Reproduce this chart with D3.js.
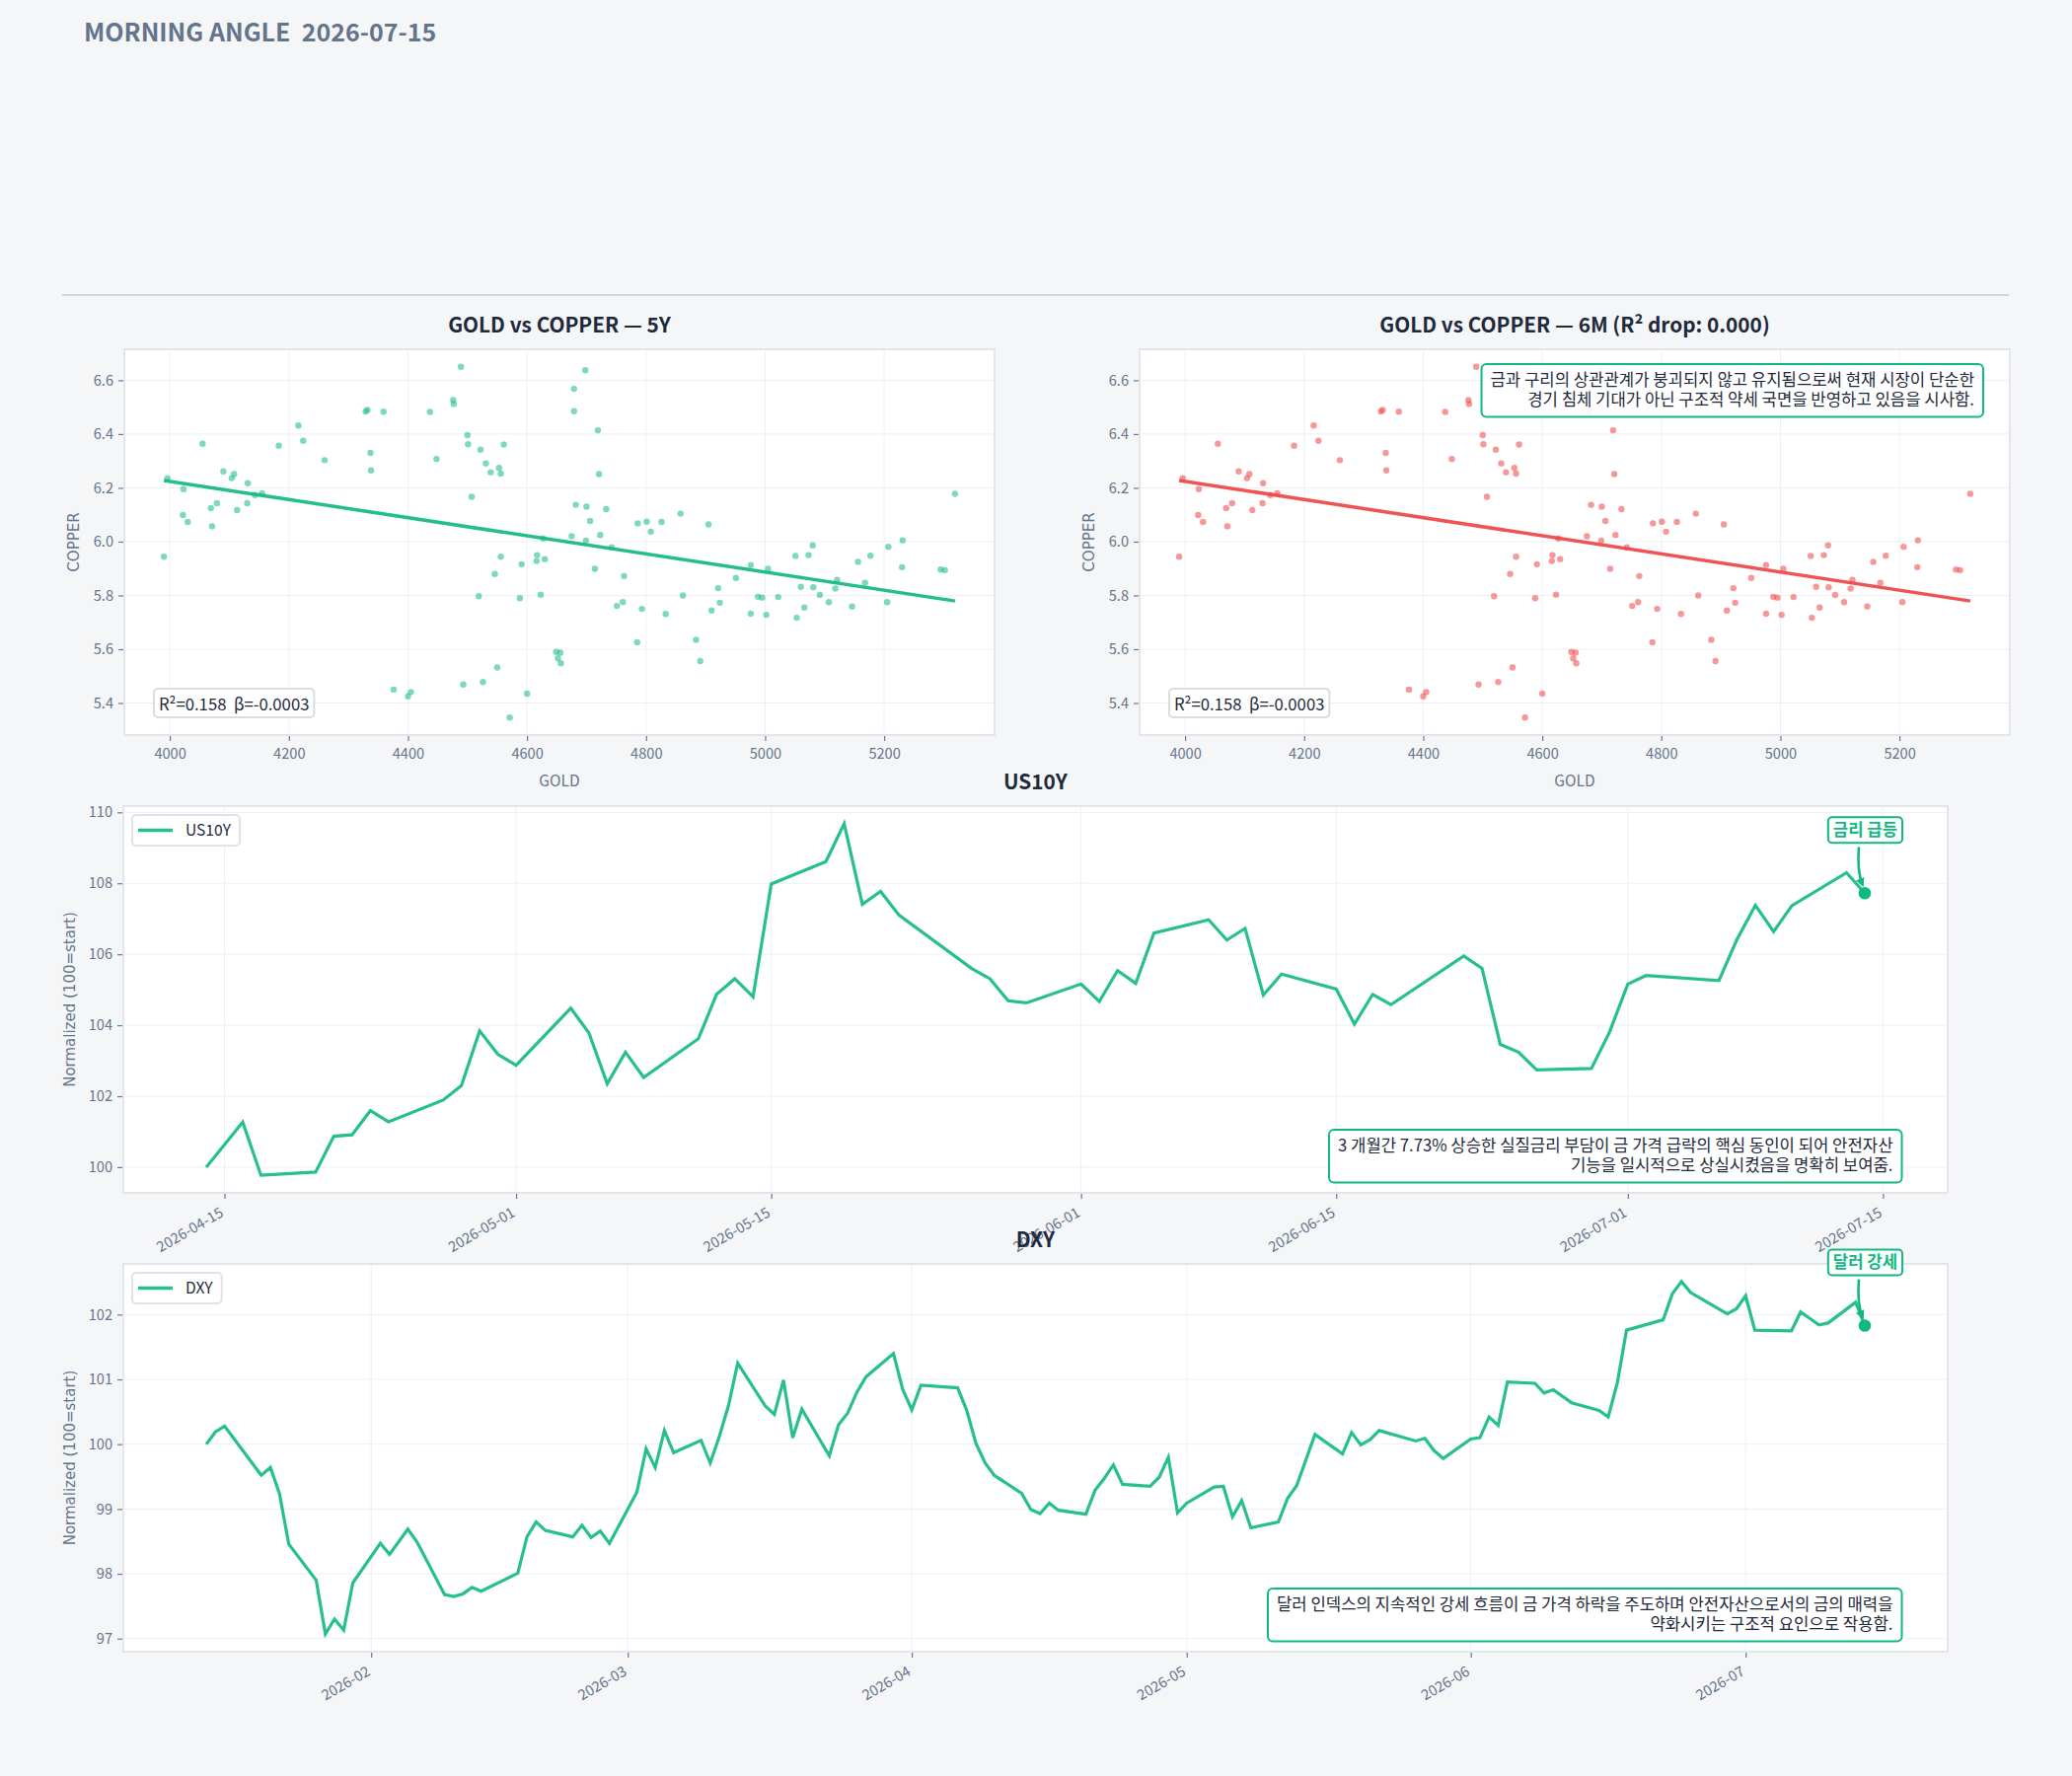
<!DOCTYPE html>
<html>
<head>
<meta charset="utf-8">
<script src="https://cdn.jsdelivr.net/npm/d3@7"></script>
<style>
  body { margin: 0; background: #f5f6f8; }
  svg { display: block; }
</style>
</head>
<body>
<div id="chart"></div>
<script>
// ---- data ----
const gold = [3990, 3996, 4023, 4022, 4030, 4055, 4071, 4069, 4079, 4090,
  4104, 4108, 4113, 4130, 4131, 4143, 4155, 4183, 4216, 4224,
  4260, 4329, 4332, 4337, 4338, 4359, 4376, 4400, 4405, 4437,
  4448, 4476, 4477, 4489, 4493, 4500, 4501, 4507, 4519, 4522,
  4526, 4531, 4539, 4546, 4550, 4553, 4556, 4556, 4561, 4571,
  4588, 4591, 4600, 4616, 4617, 4623, 4627, 4630, 4649, 4652,
  4656, 4657, 4675, 4679, 4679, 4682, 4698, 4699, 4700, 4706,
  4714, 4719, 4721, 4723, 4733, 4742, 4751, 4761, 4763, 4785,
  4786, 4793, 4801, 4808, 4826, 4833, 4858, 4862, 4884, 4891,
  4905, 4910, 4921, 4924, 4951, 4976, 4976, 4988, 4995, 5002,
  5005, 5022, 5051, 5053, 5060, 5066, 5073, 5080, 5081, 5092,
  5107, 5118, 5121, 5146, 5156, 5168, 5177, 5205, 5207, 5230,
  5231, 5295, 5302, 5319];
const copper = [5.944, 6.236, 6.195, 6.099, 6.073, 6.364, 6.057, 6.125, 6.143, 6.261,
  6.236, 6.251, 6.117, 6.143, 6.217, 6.173, 6.180, 6.357, 6.432, 6.375,
  6.303, 6.484, 6.490, 6.330, 6.265, 6.483, 5.450, 5.425, 5.441, 6.482,
  6.307, 6.526, 6.512, 6.650, 5.469, 6.396, 6.362, 6.167, 5.797, 6.342,
  5.478, 6.291, 6.258, 5.880, 5.532, 6.274, 6.253, 5.944, 6.361, 5.346,
  5.790, 5.916, 5.435, 5.928, 5.950, 5.803, 6.012, 5.935, 5.590, 5.566,
  5.587, 5.548, 6.020, 6.568, 6.485, 6.137, 6.637, 6.004, 6.130, 6.077,
  5.899, 6.414, 6.251, 6.025, 6.121, 5.979, 5.761, 5.775, 5.872, 5.626,
  6.068, 5.750, 6.074, 6.037, 6.073, 5.731, 6.104, 5.800, 5.635, 5.556,
  6.064, 5.744, 5.827, 5.773, 5.865, 5.913, 5.732, 5.795, 5.792, 5.728,
  5.899, 5.794, 5.947, 5.717, 5.832, 5.755, 5.950, 5.986, 5.830, 5.802,
  5.775, 5.826, 5.858, 5.759, 5.925, 5.847, 5.948, 5.775, 5.981, 5.905,
  6.005, 5.896, 5.894, 6.178];

const us10yDates = ['2026-04-14', '2026-04-16', '2026-04-17', '2026-04-20', '2026-04-21', '2026-04-22',
  '2026-04-23', '2026-04-24', '2026-04-27', '2026-04-28', '2026-04-29', '2026-04-30', '2026-05-01',
  '2026-05-04', '2026-05-05', '2026-05-06', '2026-05-07', '2026-05-08', '2026-05-11', '2026-05-12',
  '2026-05-13', '2026-05-14', '2026-05-15', '2026-05-18', '2026-05-19', '2026-05-20', '2026-05-21',
  '2026-05-22', '2026-05-26', '2026-05-27', '2026-05-28', '2026-05-29', '2026-06-01', '2026-06-02',
  '2026-06-03', '2026-06-04', '2026-06-05', '2026-06-08', '2026-06-09', '2026-06-10', '2026-06-11',
  '2026-06-12', '2026-06-15', '2026-06-16', '2026-06-17', '2026-06-18', '2026-06-22', '2026-06-23',
  '2026-06-24', '2026-06-25', '2026-06-26', '2026-06-29', '2026-06-30', '2026-07-01', '2026-07-02',
  '2026-07-06', '2026-07-07', '2026-07-08', '2026-07-09', '2026-07-10', '2026-07-13', '2026-07-14'];
const us10yValues = [100.00, 101.27, 99.77, 99.86, 100.87, 100.91,
  101.59, 101.28, 101.89, 102.30, 103.84, 103.18, 102.87,
  104.48, 103.78, 102.35, 103.24, 102.53, 103.62, 104.87,
  105.31, 104.80, 107.98, 108.61, 109.68, 107.41, 107.77,
  107.11, 105.60, 105.31, 104.69, 104.63, 105.16, 104.67,
  105.54, 105.18, 106.60, 106.97, 106.40, 106.73, 104.85,
  105.44, 105.02, 104.03, 104.87, 104.58, 105.95, 105.60,
  103.46, 103.24, 102.74, 102.78, 103.81, 105.16, 105.40,
  105.26, 106.43, 107.38, 106.64, 107.37, 108.30, 107.72];

const dxyDates = ['2026-01-14', '2026-01-15', '2026-01-16', '2026-01-20', '2026-01-21', '2026-01-22',
  '2026-01-23', '2026-01-26', '2026-01-27', '2026-01-28', '2026-01-29', '2026-01-30', '2026-02-02',
  '2026-02-03', '2026-02-05', '2026-02-06', '2026-02-09', '2026-02-10', '2026-02-11', '2026-02-12',
  '2026-02-13', '2026-02-17', '2026-02-18', '2026-02-19', '2026-02-20', '2026-02-23', '2026-02-24',
  '2026-02-25', '2026-02-26', '2026-02-27', '2026-03-02', '2026-03-03', '2026-03-04', '2026-03-05',
  '2026-03-06', '2026-03-09', '2026-03-10', '2026-03-11', '2026-03-12', '2026-03-13', '2026-03-16',
  '2026-03-17', '2026-03-18', '2026-03-19', '2026-03-20', '2026-03-23', '2026-03-24', '2026-03-25',
  '2026-03-26', '2026-03-27', '2026-03-30', '2026-03-31', '2026-04-01', '2026-04-02', '2026-04-06',
  '2026-04-07', '2026-04-08', '2026-04-09', '2026-04-10', '2026-04-13', '2026-04-14', '2026-04-15',
  '2026-04-16', '2026-04-17', '2026-04-20', '2026-04-21', '2026-04-22', '2026-04-23', '2026-04-24',
  '2026-04-27', '2026-04-28', '2026-04-29', '2026-04-30', '2026-05-01', '2026-05-04', '2026-05-05',
  '2026-05-06', '2026-05-07', '2026-05-08', '2026-05-11', '2026-05-12', '2026-05-13', '2026-05-15',
  '2026-05-18', '2026-05-19', '2026-05-20', '2026-05-21', '2026-05-22', '2026-05-26', '2026-05-27',
  '2026-05-28', '2026-05-29', '2026-06-01', '2026-06-02', '2026-06-03', '2026-06-04', '2026-06-05',
  '2026-06-08', '2026-06-09', '2026-06-10', '2026-06-12', '2026-06-15', '2026-06-16', '2026-06-17',
  '2026-06-18', '2026-06-22', '2026-06-23', '2026-06-24', '2026-06-25', '2026-06-29', '2026-06-30',
  '2026-07-01', '2026-07-02', '2026-07-06', '2026-07-07', '2026-07-08', '2026-07-09', '2026-07-10',
  '2026-07-13', '2026-07-14'];
const dxyValues = [100.00, 100.19, 100.28, 99.52, 99.64, 99.23,
  98.46, 97.90, 97.07, 97.30, 97.13, 97.86, 98.47,
  98.30, 98.69, 98.49, 97.68, 97.65, 97.69, 97.79,
  97.73, 98.01, 98.57, 98.80, 98.67, 98.57, 98.75,
  98.56, 98.66, 98.47, 99.26, 99.93, 99.64, 100.21,
  99.87, 100.06, 99.71, 100.12, 100.60, 101.25, 100.59,
  100.46, 100.99, 100.10, 100.54, 99.82, 100.30, 100.48,
  100.80, 101.04, 101.40, 100.85, 100.53, 100.91, 100.87,
  100.52, 100.01, 99.71, 99.52, 99.24, 98.99, 98.93,
  99.09, 98.98, 98.92, 99.29, 99.47, 99.68, 99.38,
  99.35, 99.49, 99.80, 98.94, 99.09, 99.34, 99.35,
  98.88, 99.13, 98.71, 98.80, 99.16, 99.36, 100.15,
  99.85, 100.18, 99.99, 100.07, 100.21, 100.05, 100.09,
  99.90, 99.78, 100.08, 100.10, 100.42, 100.29, 100.96,
  100.94, 100.79, 100.84, 100.64, 100.52, 100.42, 100.95,
  101.76, 101.92, 102.32, 102.51, 102.34, 102.01, 102.09,
  102.29, 101.76, 101.75, 102.04, 101.94, 101.84, 101.87,
  102.19, 101.83];

const scatterXTicks = [4000, 4200, 4400, 4600, 4800, 5000, 5200];
const scatterYTicks = [5.4, 5.6, 5.8, 6.0, 6.2, 6.4, 6.6];
const us10yYTicks = [100, 102, 104, 106, 108, 110];
const us10yXTicks = ['2026-04-15', '2026-05-01', '2026-05-15', '2026-06-01', '2026-06-15', '2026-07-01', '2026-07-15'];
const dxyYTicks = [97, 98, 99, 100, 101, 102];
const dxyXTicks = ['2026-02-01', '2026-03-01', '2026-04-01', '2026-05-01', '2026-06-01', '2026-07-01'];

const scatterNote = ['금과 구리의 상관관계가 붕괴되지 않고 유지됨으로써 현재 시장이 단순한',
  '경기 침체 기대가 아닌 구조적 약세 국면을 반영하고 있음을 시사함.'];
const us10yNote = ['3 개월간 7.73% 상승한 실질금리 부담이 금 가격 급락의 핵심 동인이 되어 안전자산',
  '기능을 일시적으로 상실시켰음을 명확히 보여줌.'];
const dxyNote = ['달러 인덱스의 지속적인 강세 흐름이 금 가격 하락을 주도하며 안전자산으로서의 금의 매력을',
  '약화시키는 구조적 요인으로 작용함.'];

// ---- look ----
const FONT = '"Noto Sans CJK KR", "Noto Sans", sans-serif';
const LABEL_FONT = '"DejaVu Sans", sans-serif';
const GREEN = '#10b981';
const RED = '#ef4444';
const MUTED = '#64748b';
const DARK = '#1e293b';
const TICK_SIZE = 14.6;
const NOTE_SIZE = 16.7;

const parse = d3.timeParse('%Y-%m-%d');

let svg = d3.select('#chart')
    .append('svg')
    .attr('width', 2100)
    .attr('height', 1800)
    .style('font-family', FONT);

svg.append('rect').attr('width', 2100).attr('height', 1800).attr('fill', '#f5f6f8');

// arrow head for the badges
svg.append('defs').append('marker')
    .attr('id', 'arrow')
    .attr('viewBox', '0 0 10 10')
    .attr('refX', 8).attr('refY', 5)
    .attr('markerWidth', 9).attr('markerHeight', 9)
    .attr('markerUnits', 'userSpaceOnUse')
    .attr('orient', 'auto')
    .append('path')
    .attr('d', 'M0,0 L10,5 L0,10 z')
    .attr('fill', GREEN);

// header
svg.append('text')
    .attr('x', 85).attr('y', 42)
    .attr('font-size', 25).attr('font-weight', 700)
    .attr('fill', MUTED)
    .attr('xml:space', 'preserve')
    .text('MORNING ANGLE  2026-07-15');

svg.append('line')
    .attr('x1', 63).attr('x2', 2036)
    .attr('y1', 299).attr('y2', 299)
    .attr('stroke', '#cfd6e0').attr('stroke-width', 2);

// 5% padding like matplotlib autoscale
function padded(ext) {
    let r = ext[1] - ext[0];
    return [ext[0] - r * 0.05, ext[1] + r * 0.05];
}

// white plot area with grid lines
function plotArea(box, x, y, xTicks, yTicks) {
    let g = svg.append('g');
    g.append('rect')
        .attr('x', box.x0).attr('y', box.y0)
        .attr('width', box.x1 - box.x0).attr('height', box.y1 - box.y0)
        .attr('fill', '#ffffff');
    g.selectAll('.vg').data(xTicks).join('line')
        .attr('x1', d => x(d)).attr('x2', d => x(d))
        .attr('y1', box.y0).attr('y2', box.y1)
        .attr('stroke', '#edeff3').attr('stroke-width', 1);
    g.selectAll('.hg').data(yTicks).join('line')
        .attr('x1', box.x0).attr('x2', box.x1)
        .attr('y1', d => y(d)).attr('y2', d => y(d))
        .attr('stroke', '#edeff3').attr('stroke-width', 1);
    return g;
}

function border(box) {
    svg.append('rect')
        .attr('x', box.x0).attr('y', box.y0)
        .attr('width', box.x1 - box.x0).attr('height', box.y1 - box.y0)
        .attr('fill', 'none')
        .attr('stroke', '#e2e5eb').attr('stroke-width', 2);
}

function styleAxis(axis) {
    axis.select('.domain').remove();
    axis.attr('font-family', FONT).attr('font-size', TICK_SIZE);
    axis.selectAll('line').attr('stroke', '#6b7a90').attr('stroke-width', 1.2);
    axis.selectAll('text').attr('fill', MUTED);
}

function yAxis(box, y, ticks, fmt) {
    let a = svg.append('g').attr('transform', `translate(${box.x0 - 1}, 0)`)
        .call(d3.axisLeft(y).tickValues(ticks).tickSize(5).tickPadding(5).tickFormat(fmt));
    styleAxis(a);
}

function yLabel(box, x, label) {
    svg.append('text')
        .attr('transform', `translate(${x}, ${(box.y0 + box.y1) / 2}) rotate(-90)`)
        .attr('text-anchor', 'middle')
        .attr('font-family', LABEL_FONT).attr('font-size', 15)
        .attr('fill', MUTED)
        .text(label);
}

// text box, right aligned, lines kept in one text element
function noteBox(lines, xRight, top, borderColor) {
    let g = svg.append('g');
    let rect = g.append('rect');
    let text = g.append('text')
        .attr('text-anchor', 'end')
        .attr('font-size', NOTE_SIZE)
        .attr('fill', DARK);
    let spans = text.selectAll('tspan').data(lines).join('tspan')
        .attr('x', xRight)
        .attr('y', (d, i) => top + 22 + i * 19.5)
        .text(d => d);
    let w = d3.max(spans.nodes(), n => n.getComputedTextLength());
    rect.attr('x', xRight - w - 9).attr('y', top)
        .attr('width', w + 18).attr('height', 22 + 19.5 * (lines.length - 1) + 12)
        .attr('rx', 5)
        .attr('fill', 'rgba(255,255,255,0.92)')
        .attr('stroke', borderColor).attr('stroke-width', 2);
}

// ---- scatter panels ----
const SY0 = 354, SY1 = 745, SW = 882;

function scatterPanel(px0, title, color, withNote) {
    let box = { x0: px0, x1: px0 + SW, y0: SY0, y1: SY1 };
    let x = d3.scaleLinear().domain(padded(d3.extent(gold))).range([box.x0, box.x1]);
    let y = d3.scaleLinear().domain(padded(d3.extent(copper))).range([box.y1, box.y0]);

    let g = plotArea(box, x, y, scatterXTicks, scatterYTicks);

    g.selectAll('circle').data(gold).join('circle')
        .attr('cx', d => x(d))
        .attr('cy', (d, i) => y(copper[i]))
        .attr('r', 3.2)
        .attr('fill', color)
        .attr('fill-opacity', 0.55);

    // least squares fit
    let mx = d3.mean(gold), my = d3.mean(copper);
    let beta = d3.sum(gold, (d, i) => (d - mx) * (copper[i] - my)) / d3.sum(gold, d => (d - mx) ** 2);
    let alpha = my - beta * mx;
    let ext = d3.extent(gold);
    g.append('path')
        .attr('d', d3.line()(ext.map(v => [x(v), y(alpha + beta * v)])))
        .attr('stroke', color).attr('stroke-opacity', 0.92)
        .attr('stroke-width', 3.5).attr('fill', 'none');

    border(box);

    let ax = svg.append('g').attr('transform', `translate(0, ${box.y1 + 1})`)
        .call(d3.axisBottom(x).tickValues(scatterXTicks).tickSize(5).tickPadding(8).tickFormat(d3.format('d')));
    styleAxis(ax);
    yAxis(box, y, scatterYTicks, d3.format('.1f'));

    svg.append('text')
        .attr('x', (box.x0 + box.x1) / 2).attr('y', 797)
        .attr('text-anchor', 'middle')
        .attr('font-size', 15.5).attr('fill', MUTED)
        .text('GOLD');
    yLabel(box, box.x0 - 46, 'COPPER');

    svg.append('text')
        .attr('x', (box.x0 + box.x1) / 2).attr('y', 337)
        .attr('text-anchor', 'middle')
        .attr('font-size', 20.8).attr('font-weight', 700)
        .attr('fill', DARK)
        .text(title);

    // R² box
    let rg = svg.append('g');
    let rr = rg.append('rect');
    let rt = rg.append('text')
        .attr('x', box.x0 + 35).attr('y', box.y1 - 25)
        .attr('font-size', NOTE_SIZE).attr('fill', DARK)
        .attr('xml:space', 'preserve')
        .text('R²=0.158  β=-0.0003');
    let tw = rt.node().getComputedTextLength();
    rr.attr('x', box.x0 + 30).attr('y', box.y1 - 47)
        .attr('width', tw + 10).attr('height', 29)
        .attr('rx', 4)
        .attr('fill', '#ffffff')
        .attr('stroke', '#d8dce3').attr('stroke-width', 2);

    if (withNote) noteBox(scatterNote, box.x1 - 36, box.y0 + 15, GREEN);
}

scatterPanel(126, 'GOLD vs COPPER — 5Y', GREEN, false);
scatterPanel(1155, 'GOLD vs COPPER — 6M (R² drop: 0.000)', RED, true);

// ---- time series panels ----
function linePanel(y0, y1, name, dates, values, yTicks, xTicks, fmt, badge, note) {
    let box = { x0: 125, x1: 1974, y0: y0, y1: y1 };
    let data = dates.map((d, i) => ({ date: parse(d), value: values[i] }));
    let ticks = xTicks.map(parse);

    let x = d3.scaleTime().domain(padded(d3.extent(data, d => d.date.getTime()))).range([box.x0, box.x1]);
    let y = d3.scaleLinear().domain(padded(d3.extent(values))).range([box.y1, box.y0]);

    let g = plotArea(box, x, y, ticks, yTicks);

    let line = d3.line()
        .x(d => x(d.date))
        .y(d => y(d.value));

    g.append('path')
        .attr('d', line(data))
        .attr('fill', 'none')
        .attr('stroke', GREEN).attr('stroke-opacity', 0.9)
        .attr('stroke-width', 3.2)
        .attr('stroke-linejoin', 'miter');

    border(box);

    // x axis with rotated labels
    let ax = svg.append('g').attr('transform', `translate(0, ${box.y1 + 1})`)
        .call(d3.axisBottom(x).tickValues(ticks).tickSize(5).tickFormat(''));
    styleAxis(ax);
    svg.append('g').selectAll('text').data(ticks).join('text')
        .attr('transform', d => `translate(${x(d)}, ${box.y1 + 23}) rotate(-30)`)
        .attr('text-anchor', 'end')
        .attr('font-size', TICK_SIZE).attr('fill', MUTED)
        .text(d => d3.timeFormat(fmt)(d));

    yAxis(box, y, yTicks, d3.format('d'));
    yLabel(box, 76, 'Normalized (100=start)');

    svg.append('text')
        .attr('x', (box.x0 + box.x1) / 2).attr('y', y0 - 17)
        .attr('text-anchor', 'middle')
        .attr('font-size', 20.8).attr('font-weight', 700)
        .attr('fill', DARK)
        .text(name);

    // legend
    let lg = svg.append('g').attr('transform', `translate(${box.x0 + 9}, ${box.y0 + 9})`);
    let lr = lg.append('rect');
    lg.append('line')
        .attr('x1', 6).attr('x2', 41).attr('y1', 15.5).attr('y2', 15.5)
        .attr('stroke', GREEN).attr('stroke-opacity', 0.9).attr('stroke-width', 3.5);
    let lt = lg.append('text')
        .attr('x', 54).attr('y', 21)
        .attr('font-size', 15.6).attr('fill', DARK)
        .text(name);
    lr.attr('width', 54 + lt.node().getComputedTextLength() + 9).attr('height', 31)
        .attr('rx', 4)
        .attr('fill', '#ffffff')
        .attr('stroke', '#dfe2e8').attr('stroke-width', 2);

    // last point, arrow and badge
    let last = data[data.length - 1];
    let dx = x(last.date), dy = y(last.value);
    svg.append('path')
        .attr('d', `M${dx - 6},${dy - 47} Q${dx - 8},${dy - 22} ${dx - 2},${dy - 8}`)
        .attr('fill', 'none')
        .attr('stroke', GREEN).attr('stroke-width', 2.6)
        .attr('marker-end', 'url(#arrow)');
    svg.append('circle')
        .attr('cx', dx).attr('cy', dy).attr('r', 6.3)
        .attr('fill', GREEN);

    let bg = svg.append('g');
    let br = bg.append('rect');
    let bt = bg.append('text')
        .attr('x', dx + 0.5).attr('y', dy - 58.5)
        .attr('text-anchor', 'middle')
        .attr('font-size', 16.7).attr('font-weight', 700)
        .attr('fill', GREEN)
        .text(badge);
    let bw = bt.node().getComputedTextLength();
    br.attr('x', dx + 0.5 - bw / 2 - 5).attr('y', dy - 77)
        .attr('width', bw + 10).attr('height', 26)
        .attr('rx', 4)
        .attr('fill', '#ffffff')
        .attr('stroke', GREEN).attr('stroke-width', 2);

    noteBox(note, box.x0 + 0.97 * (box.x1 - box.x0), box.y1 - 64, GREEN);
}

linePanel(817, 1209, 'US10Y', us10yDates, us10yValues, us10yYTicks, us10yXTicks, '%Y-%m-%d', '금리 급등', us10yNote);
linePanel(1281, 1674, 'DXY', dxyDates, dxyValues, dxyYTicks, dxyXTicks, '%Y-%m', '달러 강세', dxyNote);
</script>
</body>
</html>
